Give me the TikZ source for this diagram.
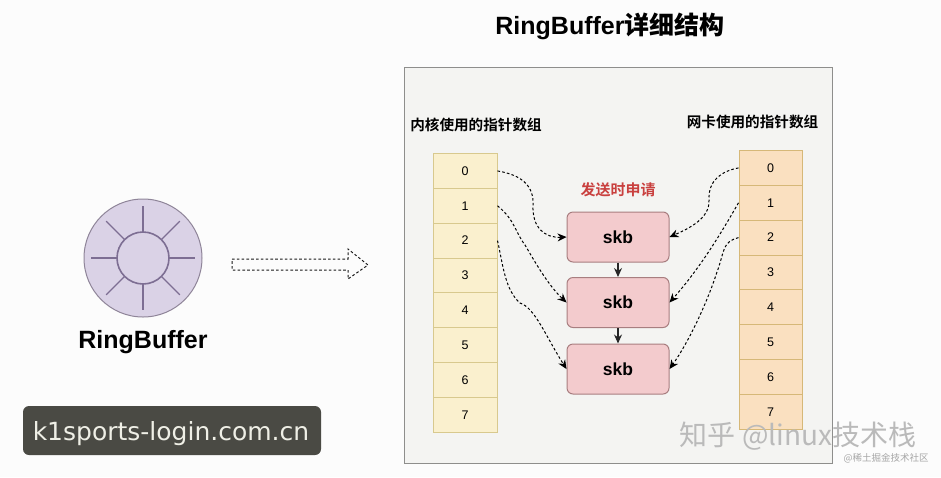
\documentclass[tikz,border=0pt]{standalone}
\usepackage{fontspec}
\setmainfont{Liberation Sans}
\newfontfamily\cjk{Noto Sans CJK SC}
\newfontfamily\cjkb{Noto Sans CJK SC Bold}
\newfontfamily\wmfont{DejaVu Sans}
\usetikzlibrary{arrows.meta}
\definecolor{panelbg}{HTML}{F4F4F2}
\definecolor{panelln}{HTML}{8E8E8C}
\definecolor{lfill}{HTML}{FAF0CE}
\definecolor{lline}{HTML}{D8C98E}
\definecolor{rfill}{HTML}{FAE0C0}
\definecolor{rline}{HTML}{D6B878}
\definecolor{skbfill}{HTML}{F3CBCD}
\definecolor{skbline}{HTML}{A87E80}
\definecolor{ringfill}{HTML}{DAD2E6}
\definecolor{ringline}{HTML}{8F8599}
\definecolor{spoke}{HTML}{7D6E93}
\definecolor{redtxt}{HTML}{C9403F}
\definecolor{wmbox}{HTML}{4A4A44}
\definecolor{wmtxt}{HTML}{EFEFE6}
\tikzset{
  lcell/.style={draw=lline,fill=lfill,line width=1pt,minimum width=64pt,minimum height=34.85pt,inner sep=0pt,font=\fontsize{12.5}{12.5}\selectfont},
  rcell/.style={draw=rline,fill=rfill,line width=1pt,minimum width=63pt,minimum height=34.85pt,inner sep=0pt,font=\fontsize{12.5}{12.5}\selectfont},
  skbbox/.style={draw=skbline,fill=skbfill,line width=1pt,rounded corners=6pt,minimum width=102pt,minimum height=50pt,inner sep=0pt,font=\fontsize{17.5}{17.5}\selectfont\bfseries},
  ptr/.style={draw=black,line width=1pt,dash pattern=on 2.6pt off 2.2pt,-{Stealth[length=9pt,width=8pt]}},
  nxt/.style={draw=black!85,line width=1.1pt,-{Stealth[length=9pt,width=8pt]}},
  heading/.style={inner sep=0pt,font=\fontsize{14.6}{14.6}\selectfont\cjkb},
  spk/.style={draw=spoke,line width=1.4pt}
}
\begin{document}
\begin{tikzpicture}[x=1pt,y=-1pt]
\useasboundingbox (0,0) rectangle (941,477);
\fill[white!99!black] (0,0) rectangle (941,477);
\node[inner sep=0pt,font=\fontsize{25}{25}\selectfont\bfseries] (title) at (610,26) {RingBuffer{\cjkb 详细结构}};
\draw[draw=panelln,fill=panelbg,line width=1pt] (404,67) rectangle (832,463);
% ring
\node[circle,draw=ringline,fill=ringfill,line width=1pt,minimum size=118pt,inner sep=0pt] (ring) at (143,258) {};
\node[circle,draw=spoke,line width=1.6pt,minimum size=52pt,inner sep=0pt] (hub) at (143,258) {};
\foreach \a in {0,45,...,315} \draw[spk] (hub.center) ++(\a:26) -- ++(\a:26);
\node[inner sep=0pt,font=\fontsize{25}{25}\selectfont\bfseries] (ringlabel) at (143,342) {RingBuffer};
% big arrow
\draw[black!90,line width=1pt,dash pattern=on 2.6pt off 2.2pt] (232,259) -- (348,259) -- (348,249) -- (368,265) -- (348,279) -- (348,270) -- (232,270) -- cycle;
% headings
\node[heading] (lhead) at (476,125) {内核使用的指针数组};
\node[heading] (rhead) at (752.5,122) {网卡使用的指针数组};
\node[inner sep=0pt,text=redtxt,font=\fontsize{15}{15}\selectfont\cjkb] (send) at (618,190) {发送时申请};
% arrays
\foreach \i in {0,...,7} {
  \node[lcell] (l\i) at (465,{153.5+34.85*(\i+.5)}) {\i};
  \node[rcell] (r\i) at (770.5,{150.5+34.85*(\i+.5)}) {\i};
}
% skb
\node[skbbox] (s1) at (618,237) {skb};
\node[skbbox] (s2) at (618,302.5) {skb};
\node[skbbox] (s3) at (618,369) {skb};
\draw[nxt] (s1.south) -- (s2.north);
\draw[nxt] (s2.south) -- (s3.north);
% pointers
\draw[ptr] (l0.east) .. controls (522,175) and (534,186) .. (533,205) .. controls (532,228) and (545,238) .. (s1.west);
\draw[ptr] (l1.east) .. controls (515,220) and (515,232) .. (525,245) .. controls (535,262) and (548,285) .. (s2.west);
\draw[ptr] (l2.east) .. controls (503,265) and (505,290) .. (520,303) .. controls (535,308) and (545,335) .. (s3.west);
\draw[ptr] (r0.west) .. controls (722,171) and (708,180) .. (709,200) .. controls (710,218) and (690,228) .. (s1.east);
\draw[ptr] (r1.west) .. controls (720,235) and (700,268) .. (s2.east);
\draw[ptr] (r2.west) .. controls (722,242) and (725,250) .. (717,272) .. controls (708,300) and (690,340) .. (s3.east);
% watermarks
\node[fill=wmbox,rounded corners=6pt,minimum width=298pt,minimum height=49pt,inner sep=0pt] (wm1) at (172,430.5) {};
\node[inner sep=0pt,text=wmtxt,font=\fontsize{25}{25}\selectfont\wmfont] (wm1t) at (171,434) {k1sports-login.com.cn};
\node[inner sep=0pt,text=black!27,font=\fontsize{28}{28}\selectfont\cjk] (wm2) at (798,436) {知乎 @linux技术栈};
\node[inner sep=0pt,text=black!35,font=\fontsize{9.5}{9.5}\selectfont\cjk] (wm3) at (886,458) {@稀土掘金技术社区};
\end{tikzpicture}
\end{document}
